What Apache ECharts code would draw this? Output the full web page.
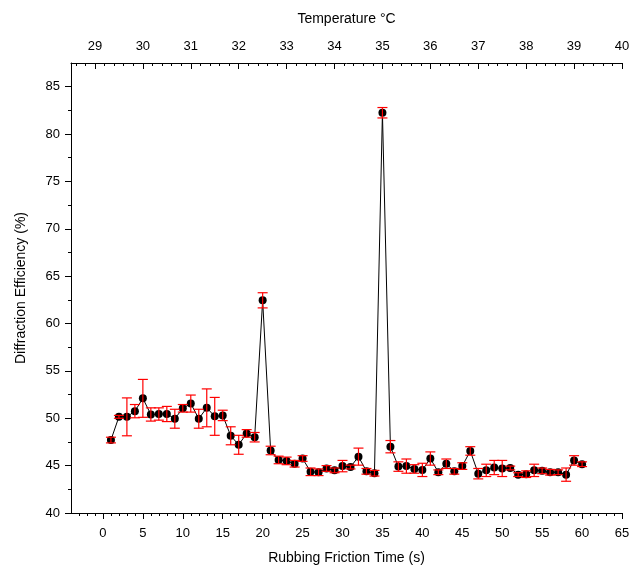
<!DOCTYPE html>
<html>
<head>
<meta charset="utf-8">
<script src="https://cdn.jsdelivr.net/npm/echarts@6/dist/echarts.min.js"></script>
<style>html,body{margin:0;padding:0;background:#fff}#c{width:635px;height:567px}</style>
</head>
<body>
<div id="c"></div>
<script>
// ---- data ----
const timeSec = [1,2,3,4,5,6,7,8,9,10,11,12,13,14,15,16,17,18,19,20,21,22,23,24,25,26,27,28,29,30,31,32,33,34,35,36,37,38,39,40,41,42,43,44,45,46,47,48,49,50,51,52,53,54,55,56,57,58,59,60];
const efficiency = [47.7,50.15,50.15,50.75,52.1,50.4,50.45,50.45,49.95,51.05,
  51.55,49.95,51.1,50.2,50.3,48.15,47.2,48.4,48.0,62.45,
  46.6,45.6,45.5,45.2,45.75,44.35,44.3,44.7,44.5,44.95,
  44.85,45.95,44.4,44.2,82.25,47.0,44.9,44.95,44.65,44.55,
  45.75,44.3,45.2,44.4,44.95,46.55,44.15,44.5,44.8,44.7,
  44.75,44.05,44.1,44.5,44.45,44.3,44.3,44.05,45.55,45.15];
const errors = [0.3,0.15,2.0,0.7,2.0,0.7,0.65,0.8,1.0,0.4,
  0.9,1.0,2.0,2.0,0.55,0.95,1.0,0.4,0.5,0.8,
  0.45,0.4,0.4,0.35,0.3,0.4,0.35,0.3,0.25,0.6,
  0.2,0.9,0.3,0.3,0.55,0.65,0.5,0.75,0.45,0.7,
  0.7,0.25,0.5,0.3,0.35,0.45,0.55,0.65,0.75,0.85,
  0.2,0.2,0.35,0.65,0.3,0.3,0.25,0.7,0.5,0.25];
const timeTicks = [0,5,10,15,20,25,30,35,40,45,50,55,60,65];
const tempTicks = [29,30,31,32,33,34,35,36,37,38,39,40];
const effTicks = [40,45,50,55,60,65,70,75,80,85];

// minor tick positions
const timeMinor = [];
for (let v = -3; v <= 64; v++) if (v % 5 !== 0) timeMinor.push(v);
const tempMinor = [];
for (let i = 0; i < 57; i++) { const v = Math.round((28.6 + i * 0.2) * 10) / 10; if (Math.abs(v - Math.round(v)) > 1e-6 && v < 40) tempMinor.push(v); }
const effMinor = [];
for (let v = 42.5; v < 87; v += 5) effMinor.push(v);

const FONT = 'Liberation Sans, Arial, sans-serif';
const lineStyle = {color: '#000', width: 1};
const chart = echarts.init(document.getElementById('c'));
const pts = timeSec.map((t, i) => [t, efficiency[i]]);
const errData = timeSec.map((t, i) => [t, efficiency[i] - errors[i], efficiency[i] + errors[i]]);

chart.setOption({
  animation: false,
  backgroundColor: '#fff',
  grid: {left: 71, right: 13, top: 63, bottom: 54, containLabel: false, outerBoundsMode: 'none'},
  xAxis: [
    {type: 'value', position: 'bottom', min: -4, max: 65,
     name: 'Rubbing Friction Time (s)', nameLocation: 'middle', nameGap: 38,
     nameTextStyle: {fontFamily: FONT, fontSize: 14, color: '#000'},
     axisLine: {show: true, onZero: false, lineStyle},
     axisTick: {show: true, customValues: timeTicks, length: 6, lineStyle},
     axisLabel: {customValues: timeTicks, margin: 14, fontFamily: FONT, fontSize: 13, color: '#000'},
     splitLine: {show: false}},
    {type: 'value', position: 'bottom', min: -4, max: 65,
     axisLine: {show: false, onZero: false},
     axisTick: {show: true, customValues: timeMinor, length: 3, lineStyle},
     axisLabel: {show: false}, splitLine: {show: false}},
    {type: 'value', position: 'top', min: 28.5, max: 40,
     name: 'Temperature °C', nameLocation: 'middle', nameGap: 37,
     nameTextStyle: {fontFamily: FONT, fontSize: 14, color: '#000'},
     axisLine: {show: true, onZero: false, lineStyle},
     axisTick: {show: true, inside: true, customValues: tempTicks, length: 6, lineStyle},
     axisLabel: {customValues: tempTicks, margin: 10, fontFamily: FONT, fontSize: 13, color: '#000'},
     splitLine: {show: false}},
    {type: 'value', position: 'top', min: 28.5, max: 40,
     axisLine: {show: false, onZero: false},
     axisTick: {show: true, inside: true, customValues: tempMinor, length: 3, lineStyle},
     axisLabel: {show: false}, splitLine: {show: false}}
  ],
  yAxis: [
    {type: 'value', position: 'left', min: 40, max: 87.5,
     name: 'Diffraction Efficiency (%)', nameLocation: 'middle', nameGap: 43,
     nameTextStyle: {fontFamily: FONT, fontSize: 14, color: '#000'},
     axisLine: {show: true, onZero: false, lineStyle},
     axisTick: {show: true, customValues: effTicks, length: 6, lineStyle},
     axisLabel: {customValues: effTicks, margin: 11, fontFamily: FONT, fontSize: 13, color: '#000'},
     splitLine: {show: false}},
    {type: 'value', position: 'left', min: 40, max: 87.5,
     axisLine: {show: false, onZero: false},
     axisTick: {show: true, customValues: effMinor, length: 3, lineStyle},
     axisLabel: {show: false}, splitLine: {show: false}}
  ],
  series: [
    {type: 'line', xAxisIndex: 0, yAxisIndex: 0, data: pts,
     symbol: 'circle', symbolSize: 8, showAllSymbol: true,
     itemStyle: {color: '#000'}, lineStyle: {color: '#000', width: 1}, z: 2},
    {type: 'custom', xAxisIndex: 0, yAxisIndex: 0, data: errData, z: 3,
     renderItem: function (params, api) {
       const x = api.value(0);
       const lo = api.coord([x, api.value(1)]);
       const hi = api.coord([x, api.value(2)]);
       const w = 5;
       const st = {stroke: '#ff0000', lineWidth: 1.2};
       return {type: 'group', children: [
         {type: 'line', shape: {x1: lo[0], y1: lo[1], x2: hi[0], y2: hi[1]}, style: st},
         {type: 'line', shape: {x1: lo[0] - w, y1: lo[1], x2: lo[0] + w, y2: lo[1]}, style: st},
         {type: 'line', shape: {x1: hi[0] - w, y1: hi[1], x2: hi[0] + w, y2: hi[1]}, style: st}
       ]};
     }}
  ]
});
</script>
</body>
</html>
